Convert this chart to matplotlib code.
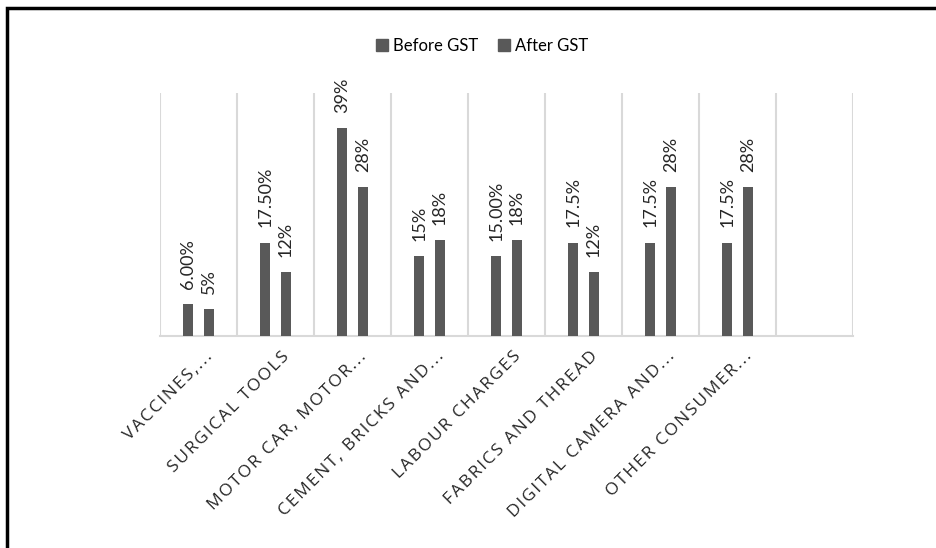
import matplotlib
matplotlib.use('Agg')
import matplotlib.pyplot as plt
import numpy as np
from matplotlib.patches import Patch, Rectangle
from matplotlib.transforms import ScaledTranslation

categories = ['VACCINES,...', 'SURGICAL TOOLS', 'MOTOR CAR, MOTOR...', 'CEMENT, BRICKS AND...',
              'LABOUR CHARGES', 'FABRICS AND THREAD', 'DIGITAL CAMERA AND...', 'OTHER CONSUMER...', '']
before_gst = [6.0, 17.5, 39.0, 15.0, 15.0, 17.5, 17.5, 17.5]
after_gst = [5.0, 12.0, 28.0, 18.0, 18.0, 12.0, 28.0, 28.0]
before_labels = ['6.00%', '17.50%', '39%', '15%', '15.00%', '17.5%', '17.5%', '17.5%']
after_labels = ['5%', '12%', '28%', '18%', '18%', '12%', '28%', '28%']

bar_color = '#595959'
grid_color = '#d9d9d9'
text_color = '#262626'


def spaced(s):
    # widen the category text a little with hair spaces between letters
    return '\u200a'.join(s)


fig = plt.figure(figsize=(9.36, 5.48), dpi=100)
ax = fig.add_axes([160 / 936, 212 / 548, 693 / 936, 243 / 548])

ind = np.arange(len(before_gst))
width = 0.13
off = 0.135

b1 = ax.bar(ind - off, before_gst, width, color=bar_color, zorder=3)
b2 = ax.bar(ind + off, after_gst, width, color=bar_color, zorder=3)

for bars, labels in ((b1, before_labels), (b2, after_labels)):
    for rect, txt in zip(bars, labels):
        ax.annotate(txt, (rect.get_x() + rect.get_width() / 2, rect.get_height()),
                    xytext=(0, 11), textcoords='offset points', rotation=90,
                    ha='center', va='bottom', fontsize=13, family='Lato', color=text_color)

ax.set_xlim(-0.5, len(categories) - 0.5)
ax.set_ylim(0, 45.6)
ax.set_yticks([])

ax.set_xticks(np.arange(len(categories)))
ax.set_xticklabels([spaced(c) for c in categories], rotation=45, ha='right', rotation_mode='anchor',
                   fontsize=12.5, family=['Open Sans', 'DejaVu Sans'], color=text_color)
ax.tick_params(axis='x', which='major', length=0, pad=9)
for lbl in ax.get_xticklabels():
    lbl.set_transform(lbl.get_transform() + ScaledTranslation(6 / 100, 0, fig.dpi_scale_trans))
ax.set_xticks(np.arange(len(categories) + 1) - 0.5, minor=True)
ax.tick_params(axis='x', which='minor', length=0)
ax.grid(axis='x', which='minor', color=grid_color, linewidth=1.5, zorder=0)

for side in ('top', 'left', 'right'):
    ax.spines[side].set_visible(False)
ax.spines['bottom'].set_color(grid_color)
ax.spines['bottom'].set_linewidth(1.5)

handles = [Patch(color=bar_color), Patch(color=bar_color)]
fig.legend(handles, ['Before GST', 'After GST'], loc='center', bbox_to_anchor=(0.515, 1 - 46 / 548),
           ncol=2, frameon=False, handlelength=0.7, handleheight=0.7, handletextpad=0.3,
           columnspacing=1.2, prop={'family': 'Lato', 'size': 12})

# frame around the chart area, open on the right and bottom
fig.patches.append(Rectangle((7 / 936, -0.1), 1.2, 1 - 8 / 548 + 0.1, transform=fig.transFigure,
                             fill=False, edgecolor='black', linewidth=2.5))

fig.savefig('out.png', dpi=100)
